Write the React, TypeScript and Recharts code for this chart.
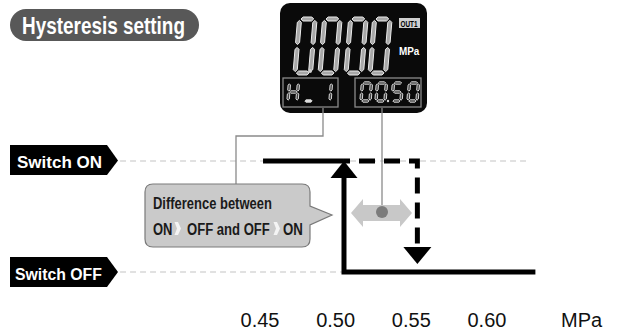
import React from 'react';
import { LineChart, Line, XAxis, YAxis } from 'recharts';

// switching characteristic, x = pressure (MPa), y = 1 ON / 0 OFF
const onBranch = [
  { x: 0.452, y: 1 },
  { x: 0.5055, y: 1 },
];
const riseBranch = [
  { x: 0.632, y: 0 },
  { x: 0.5055, y: 0 },
  { x: 0.5055, y: 0.847, arrow: 'up' },
];
const fallBranch = [
  { x: 0.5055, y: 1 },
  { x: 0.554, y: 1 },
  { x: 0.554, y: 0.225, arrow: 'down' },
];
const guideOn = [
  { x: 0.3575, y: 1 },
  { x: 0.6285, y: 1 },
];
const guideOff = [
  { x: 0.3575, y: 0 },
  { x: 0.5055, y: 0 },
];

const tickValues = [0.45, 0.5, 0.55, 0.6, 0.6625];
const tickLabels = ['0.45', '0.50', '0.55', '0.60', 'MPa'];

const arrowDot = (props: any) => {
  const { cx, cy, payload, index } = props;
  if (!payload || !payload.arrow) return <g key={index} />;
  const pts =
    payload.arrow === 'up'
      ? `${cx - 13.5},${cy} ${cx + 13.5},${cy} ${cx},${cy - 17}`
      : `${cx - 14},${cy} ${cx + 14},${cy} ${cx},${cy + 17}`;
  return <polygon key={index} points={pts} fill="#000" />;
};

// seven segment glyph helper for the display drawing
const SEGS: Record<string, string> = {
  '0': 'abcdef',
  '1': 'bc',
  '5': 'acdfg',
  H: 'bcefg',
  _: 'd',
};

function Seg7({ ch, x, y, w, h, t, slant, fill, stroke }: any) {
  const g = t * 0.35;
  const sk = (px: number, py: number) => `${(px + (y + h - py) * slant).toFixed(2)},${py.toFixed(2)}`;
  const hz = (xa: number, xb: number, yy: number) =>
    [
      sk(xa + g, yy),
      sk(xa + g + t / 2, yy - t / 2),
      sk(xb - g - t / 2, yy - t / 2),
      sk(xb - g, yy),
      sk(xb - g - t / 2, yy + t / 2),
      sk(xa + g + t / 2, yy + t / 2),
    ].join(' ');
  const vt = (xx: number, ya: number, yb: number) =>
    [
      sk(xx, ya + g),
      sk(xx + t / 2, ya + g + t / 2),
      sk(xx + t / 2, yb - g - t / 2),
      sk(xx, yb - g),
      sk(xx - t / 2, yb - g - t / 2),
      sk(xx - t / 2, ya + g + t / 2),
    ].join(' ');
  const m = y + h / 2;
  const all: Record<string, string> = {
    a: hz(x, x + w, y),
    b: vt(x + w, y, m),
    c: vt(x + w, m, y + h),
    d: hz(x, x + w, y + h),
    e: vt(x, m, y + h),
    f: vt(x, y, m),
    g: hz(x, x + w, m),
  };
  return (
    <g>
      {SEGS[ch].split('').map((s) => (
        <polygon key={s} points={all[s]} fill={fill} stroke={stroke} strokeWidth={1} />
      ))}
    </g>
  );
}

const sans = "'Liberation Sans', Arial, sans-serif";

// condensed bold text: horizontally squeezed Liberation Sans
function CText({ x, y, sx, size, fill, children }: any) {
  return (
    <text
      transform={`translate(${x},${y}) scale(${sx},1)`}
      fill={fill}
      fontFamily={sans}
      fontWeight="bold"
      fontSize={size}
    >
      {children}
    </text>
  );
}

function Decor() {
  const big = { y: 19, w: 15.5, h: 54, t: 4, slant: 0.085, fill: '#a8a8a8', stroke: '#ececec' };
  const small = { y: 83, w: 9, h: 18, t: 2.4, slant: 0.08, fill: '#444', stroke: '#d6d6d6' };
  return (
    <svg width={618} height={331} style={{ position: 'absolute', left: 0, top: 0, pointerEvents: 'none' }}>
      {/* title pill */}
      <rect x={10} y={9} width={189} height={32} rx={16} fill="#585858" />
      <CText x={22} y={33.5} sx={0.823} size={23} fill="#fff">Hysteresis setting</CText>

      {/* display */}
      <rect x={280} y={3} width={147} height={110} rx={10} fill="#0a0a0a" />
      {[293, 318, 344, 368].map((lx, i) => (
        <Seg7 key={i} ch="0" x={lx + 2} {...big} />
      ))}
      <circle cx={310} cy={71} r={2} fill="#d0d0d0" />
      <rect x={399} y={18} width={21} height={10} fill="#cfcfcf" />
      <CText x={400.5} y={26.5} sx={0.75} size={8.5} fill="#000">OUT1</CText>
      <CText x={399} y={55} sx={0.9} size={11} fill="#fff">MPa</CText>
      <rect x={283} y={78} width={55} height={29} fill="none" stroke="#8a8a8a" strokeWidth={1.3} />
      <rect x={355} y={78} width={66} height={29} fill="none" stroke="#8a8a8a" strokeWidth={1.3} />
      <Seg7 ch="H" x={288} {...small} />
      <Seg7 ch="_" x={304} {...small} fill="#e0e0e0" />
      <Seg7 ch="1" x={321} {...small} />
      {[['0', 361], ['0', 376], ['5', 392], ['0', 408]].map(([c, lx], i) => (
        <Seg7 key={i} ch={c} x={lx} {...small} />
      ))}
      <circle cx={388} cy={101} r={1.2} fill="#d6d6d6" />

      {/* leaders */}
      <polyline points="323,108 323,136 236,136 236,184" fill="none" stroke="#8a8a8a" strokeWidth={1.3} />
      <line x1={382} y1={108} x2={382} y2={212} stroke="#8a8a8a" strokeWidth={1.3} />

      {/* hysteresis width arrow */}
      <polygon
        points="351,213 363,199 363,205 400,205 400,199 412,213 400,227 400,221 363,221 363,227"
        fill="#c8c8c8"
      />
      <circle cx={382} cy={212} r={6} fill="#7c7c7c" />

      {/* callout */}
      <path
        d="M153 184 H302 Q310 184 310 192 V206 L332 215 L310 225 V239 Q310 247 302 247 H153 Q145 247 145 239 V192 Q145 184 153 184 Z"
        fill="#cacaca"
        stroke="#7a7a7a"
        strokeWidth={1.2}
      />
      <CText x={153} y={209} sx={0.763} size={17} fill="#1a1a1a">Difference between</CText>
      <CText x={153} y={235} sx={0.763} size={17} fill="#1a1a1a">ON</CText>
      <CText x={187} y={235} sx={0.77} size={17} fill="#1a1a1a">OFF and OFF</CText>
      <CText x={283} y={235} sx={0.78} size={17} fill="#1a1a1a">ON</CText>
      <polygon points="174.5,222 178,222 181,228.5 178,235 174.5,235 177,228.5" fill="#f4f4f4" />
      <polygon points="273.5,222 277,222 280,228.5 277,235 273.5,235 276,228.5" fill="#f4f4f4" />

      {/* level tags */}
      <polygon points="10,145 107,145 118,160.5 107,175 10,175" fill="#000" />
      <CText x={17} y={168} sx={1} size={17} fill="#fff">Switch ON</CText>
      <polygon points="10,257 107,257 118,272 107,287 10,287" fill="#000" />
      <CText x={15} y={279.5} sx={0.93} size={17} fill="#fff">Switch OFF</CText>
    </svg>
  );
}

export default function App() {
  return (
    <div style={{ position: 'absolute', left: 0, top: 0, width: 618, height: 331, background: '#fff', fontFamily: sans }}>
      <LineChart width={618} height={331} margin={{ top: 105.5, right: 25.1, bottom: 0, left: 108.7 }}>
        <XAxis
          type="number"
          dataKey="x"
          domain={[0.35, 0.67]}
          ticks={tickValues}
          interval={0}
          allowDataOverflow
          axisLine={false}
          tickLine={false}
          tickMargin={7}
          height={31.25}
          tick={{ fill: '#111', fontSize: 20, fontFamily: sans }}
          tickFormatter={(v: number) => tickLabels[tickValues.indexOf(v)]}
        />
        <YAxis type="number" dataKey="y" domain={[-0.25, 1.5]} hide allowDataOverflow />
        <Line data={guideOn} dataKey="y" stroke="#c4c4c4" strokeWidth={1.2} strokeDasharray="6 4" dot={false} isAnimationActive={false} />
        <Line data={guideOff} dataKey="y" stroke="#c4c4c4" strokeWidth={1.2} strokeDasharray="6 4" dot={false} isAnimationActive={false} />
        <Line
          data={fallBranch}
          dataKey="y"
          stroke="#000"
          strokeWidth={5}
          strokeDasharray="16 9"
          strokeDashoffset={10}
          strokeLinejoin="miter"
          dot={arrowDot}
          activeDot={false}
          isAnimationActive={false}
        />
        <Line data={onBranch} dataKey="y" stroke="#000" strokeWidth={5} dot={false} activeDot={false} isAnimationActive={false} />
        <Line
          data={riseBranch}
          dataKey="y"
          stroke="#000"
          strokeWidth={5}
          strokeLinejoin="miter"
          dot={arrowDot}
          activeDot={false}
          isAnimationActive={false}
        />
      </LineChart>
      <Decor />
    </div>
  );
}
